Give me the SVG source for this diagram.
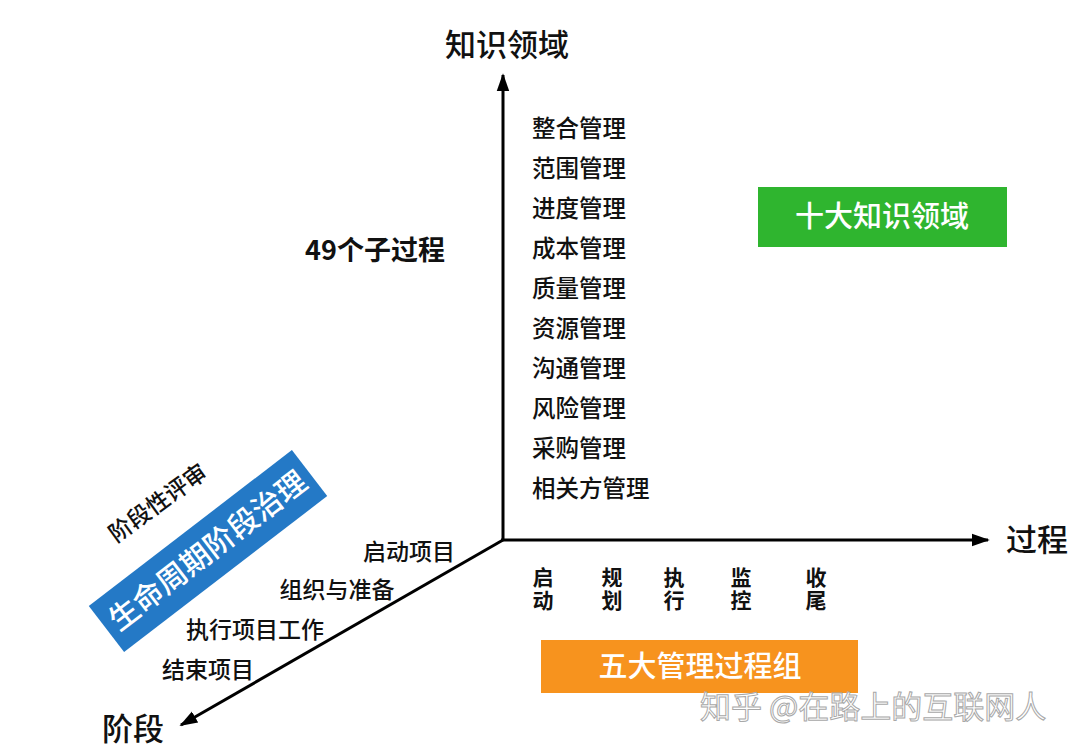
<svg xmlns="http://www.w3.org/2000/svg" width="1080" height="749" viewBox="0 0 1080 749">
<style>
text{font-family:"Noto Sans CJK SC","Liberation Sans",sans-serif;fill:#111}
.axis{font-size:31px;font-weight:500}
.ka{font-size:23.5px;font-weight:500}
.pg{font-size:21px;font-weight:700;writing-mode:vertical-rl;letter-spacing:2px}
.ph{font-size:23px;font-weight:500}
.wt{fill:#fff;font-size:29px;font-weight:500}
.wm{fill:#fff;stroke:#a8a8a8;stroke-width:1;font-size:31px}
</style>
<defs>
<marker id="ah" viewBox="0 0 10 10" refX="9" refY="5" markerWidth="6" markerHeight="6" markerUnits="strokeWidth" orient="auto">
<path d="M0,1.5 L10,5 L0,8.5 z" fill="#000"/>
</marker>
</defs>
<rect width="1080" height="749" fill="#fff"/>
<g id="connectors" stroke="#000" stroke-width="3" fill="none">
<line x1="503" y1="540" x2="503" y2="75" marker-end="url(#ah)"/>
<line x1="501" y1="540" x2="988" y2="540" marker-end="url(#ah)"/>
<line x1="503" y1="540" x2="181" y2="725" marker-end="url(#ah)"/>
</g>
<g id="axis-knowledge"><text class="axis" x="507" y="56" text-anchor="middle">知识领域</text></g>
<g id="axis-process"><text class="axis" x="1037" y="551" text-anchor="middle">过程</text></g>
<g id="axis-phase"><text class="axis" x="133" y="740" text-anchor="middle">阶段</text></g>
<g id="sub-processes"><text x="375" y="260" text-anchor="middle" style="font-size:27px;font-weight:600">49个子过程</text></g>
<g id="knowledge-areas">
<text class="ka" x="532" y="137">整合管理</text>
<text class="ka" x="532" y="177">范围管理</text>
<text class="ka" x="532" y="217">进度管理</text>
<text class="ka" x="532" y="257">成本管理</text>
<text class="ka" x="532" y="297">质量管理</text>
<text class="ka" x="532" y="337">资源管理</text>
<text class="ka" x="532" y="377">沟通管理</text>
<text class="ka" x="532" y="417">风险管理</text>
<text class="ka" x="532" y="457">采购管理</text>
<text class="ka" x="532" y="497">相关方管理</text>
</g>
<g id="ten-areas">
<rect x="758" y="187" width="249" height="60" fill="#2fb52f"/>
<text class="wt" x="882" y="227" text-anchor="middle">十大知识领域</text>
</g>
<g id="process-groups">
<text class="pg" x="543" y="567">启动</text>
<text class="pg" x="612" y="567">规划</text>
<text class="pg" x="674" y="567">执行</text>
<text class="pg" x="741" y="567">监控</text>
<text class="pg" x="816" y="567">收尾</text>
</g>
<g id="five-groups">
<rect x="541" y="640" width="317" height="53" fill="#f7931e"/>
<text class="wt" x="700" y="677" text-anchor="middle">五大管理过程组</text>
</g>
<g id="phases">
<text class="ph" x="409" y="560" text-anchor="middle">启动项目</text>
<text class="ph" x="337" y="598" text-anchor="middle">组织与准备</text>
<text class="ph" x="255" y="638" text-anchor="middle">执行项目工作</text>
<text class="ph" x="208" y="678" text-anchor="middle">结束项目</text>
</g>
<g id="lifecycle" transform="translate(208,551) rotate(-37.5)">
<rect x="-128" y="-29" width="256" height="58" fill="#2479c6"/>
<text class="wt" x="0" y="10" text-anchor="middle" style="font-size:30px">生命周期阶段治理</text>
</g>
<g id="review" transform="translate(158,503) rotate(-36)">
<text x="0" y="8" text-anchor="middle" style="font-size:23px;font-weight:500">阶段性评审</text>
</g>
<g id="watermark">
<text class="wm" x="700" y="718">知乎 @在路上的互联网人</text>
</g>
</svg>
